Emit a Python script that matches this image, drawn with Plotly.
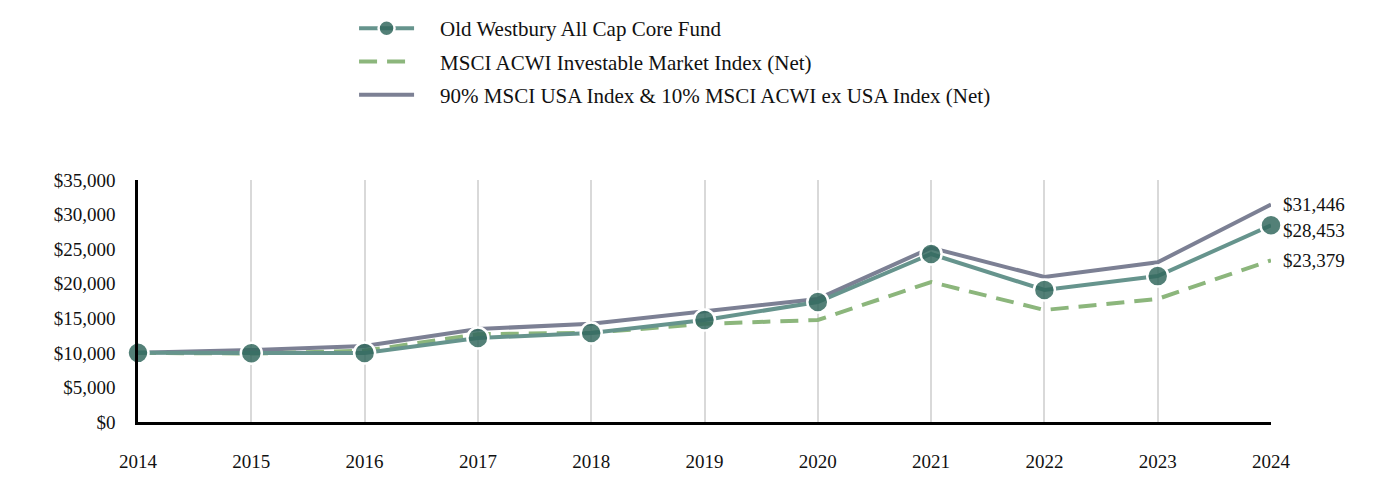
import plotly.graph_objects as go

years = [2014, 2015, 2016, 2017, 2018, 2019, 2020, 2021, 2022, 2023, 2024]
fund = [10000, 9950, 9980, 12150, 12870, 14750, 17360, 24300, 19100, 21100, 28453]
acwi_imi = [10000, 9900, 10300, 12700, 12900, 14200, 14750, 20250, 16200, 17800, 23379]
blend = [10000, 10400, 11000, 13450, 14200, 16050, 17800, 25200, 20970, 23100, 31446]

names = ["Old Westbury All Cap Core Fund",
         "MSCI ACWI Investable Market Index (Net)",
         "90% MSCI USA Index & 10% MSCI ACWI ex USA Index (Net)"]
end_labels = ["$28,453", "$23,379", "$31,446"]
yticks = [0, 5000, 10000, 15000, 20000, 25000, 30000, 35000]
ytick_text = ["$0", "$5,000", "$10,000", "$15,000", "$20,000", "$25,000", "$30,000", "$35,000"]

FONT = "Liberation Serif, Times New Roman, serif"
c_fund = "#66948d"
c_imi = "#8cb67c"
c_blend = "#7c8094"
TXT = "#111"
PAD = "\u00a0" * 4

fig = go.Figure()
fig.add_trace(go.Scatter(x=years, y=blend, mode="lines", name=PAD + names[2],
                         line=dict(color=c_blend, width=4), legendrank=3,
                         legendgroup="c", cliponaxis=False))
fig.add_trace(go.Scatter(x=years, y=acwi_imi, mode="lines", name=PAD + names[1],
                         line=dict(color=c_imi, width=4, dash="18px,10px"), legendrank=2,
                         legendgroup="b", cliponaxis=False))
fig.add_trace(go.Scatter(x=years, y=fund, mode="lines+markers", name=PAD + names[0],
                         line=dict(color=c_fund, width=4),
                         marker=dict(color="rgba(50,104,93,0.84)", size=21,
                                     line=dict(color="white", width=2.5)),
                         legendrank=1, legendgroup="a", cliponaxis=False))

for lbl, val, ys in [(end_labels[2], blend[-1], 0), (end_labels[0], fund[-1], -5), (end_labels[1], acwi_imi[-1], 0)]:
    fig.add_annotation(x=years[-1], y=val, xref="x", yref="y", text=lbl, showarrow=False,
                       xanchor="left", yanchor="middle", xshift=10, yshift=ys,
                       font=dict(family=FONT, size=19, color=TXT))

fig.update_layout(
    width=1392, height=492,
    margin=dict(l=130, r=129, t=172, b=78, autoexpand=False),
    paper_bgcolor="white", plot_bgcolor="white",
    font=dict(family=FONT, size=19, color=TXT),
    showlegend=True,
    legend=dict(x=0.1907, y=1.0, yref="container", yanchor="top", xanchor="left",
                orientation="v", traceorder="grouped", tracegroupgap=3,
                itemwidth=55, font=dict(family=FONT, size=21, color=TXT),
                bgcolor="rgba(0,0,0,0)"),
    xaxis=dict(range=[2014, 2024], tickmode="array", tickvals=years,
               ticktext=[str(y) for y in years],
               showgrid=True, gridcolor="#d9d9d9", gridwidth=2,
               showline=True, linecolor="black", linewidth=2.5,
               ticks="", ticklabelstandoff=20, zeroline=False),
    yaxis=dict(range=[0, 35000], tickmode="array", tickvals=yticks, ticktext=ytick_text,
               showgrid=False, showline=True, linecolor="black", linewidth=2.5,
               ticks="", ticklabelstandoff=16, zeroline=False),
)

fig.write_html("out.html")
